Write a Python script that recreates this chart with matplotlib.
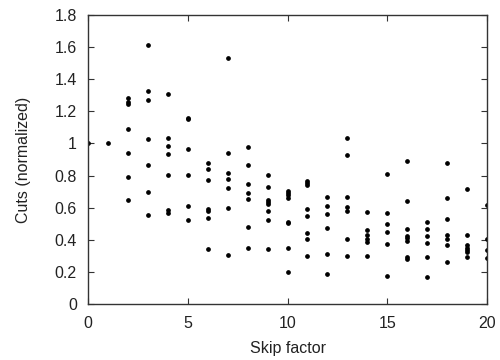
import matplotlib
matplotlib.use("Agg")
import matplotlib.pyplot as plt

# skip factor -> normalized cuts (one list per skip factor)
skip_factors = list(range(0, 21))
cuts = [
    [1.0],
    [1.0],
    [1.285, 1.256, 1.245, 1.088, 0.940, 0.789, 0.645],
    [1.615, 1.326, 1.270, 1.029, 0.866, 0.699, 0.556],
    [1.306, 1.035, 0.984, 0.932, 0.803, 0.583, 0.565],
    [1.160, 1.150, 0.963, 0.803, 0.612, 0.525],
    [0.878, 0.841, 0.770, 0.590, 0.581, 0.537, 0.342],
    [1.530, 0.940, 0.816, 0.778, 0.720, 0.600, 0.307],
    [0.978, 0.866, 0.745, 0.689, 0.652, 0.478, 0.351],
    [0.803, 0.729, 0.648, 0.637, 0.623, 0.579, 0.521, 0.341],
    [0.704, 0.689, 0.677, 0.658, 0.512, 0.502, 0.351, 0.197],
    [0.766, 0.753, 0.741, 0.590, 0.548, 0.444, 0.403, 0.297],
    [0.668, 0.612, 0.562, 0.473, 0.311, 0.189],
    [1.035, 0.926, 0.668, 0.606, 0.577, 0.405, 0.297],
    [0.571, 0.461, 0.432, 0.403, 0.386, 0.297],
    [0.808, 0.565, 0.496, 0.448, 0.374, 0.174],
    [0.892, 0.639, 0.469, 0.423, 0.411, 0.394, 0.293, 0.280],
    [0.512, 0.469, 0.423, 0.378, 0.291, 0.170],
    [0.878, 0.662, 0.529, 0.432, 0.403, 0.365, 0.260],
    [0.718, 0.430, 0.365, 0.349, 0.336, 0.322, 0.291],
    [0.618, 0.403, 0.336, 0.286],
]

plt.rcParams["font.family"] = ["Liberation Sans", "DejaVu Sans"]

fig = plt.figure(figsize=(5, 3.6), dpi=100)
ax = fig.add_axes([0.176, 0.156, 0.798, 0.802])

xs = [k for k, vals in zip(skip_factors, cuts) for _ in vals]
ys = [v for vals in cuts for v in vals]
ax.plot(xs, ys, "o", color="black", markersize=2.4, linestyle="none")

ax.set_xlim(0, 20)
ax.set_ylim(0, 1.8)
ax.set_xticks([0, 5, 10, 15, 20])
ax.set_yticks([0, 0.2, 0.4, 0.6, 0.8, 1.0, 1.2, 1.4, 1.6, 1.8])
ax.set_yticklabels(["0", "0.2", "0.4", "0.6", "0.8", "1", "1.2", "1.4", "1.6", "1.8"])
ax.tick_params(direction="in", top=True, right=True, length=4, width=0.8,
               labelsize=11.5, colors="#333333", labelcolor="#222222")
ax.tick_params(axis="y", pad=8)
ax.tick_params(axis="x", pad=9)
for sp in ax.spines.values():
    sp.set_color("#333333")
    sp.set_linewidth(1.0)

ax.set_xlabel("Skip factor", fontsize=11.5, labelpad=7, color="#222222")
ax.set_ylabel("Cuts (normalized)", fontsize=11.5, labelpad=17, color="#222222")

fig.savefig("out.png", dpi=100)
